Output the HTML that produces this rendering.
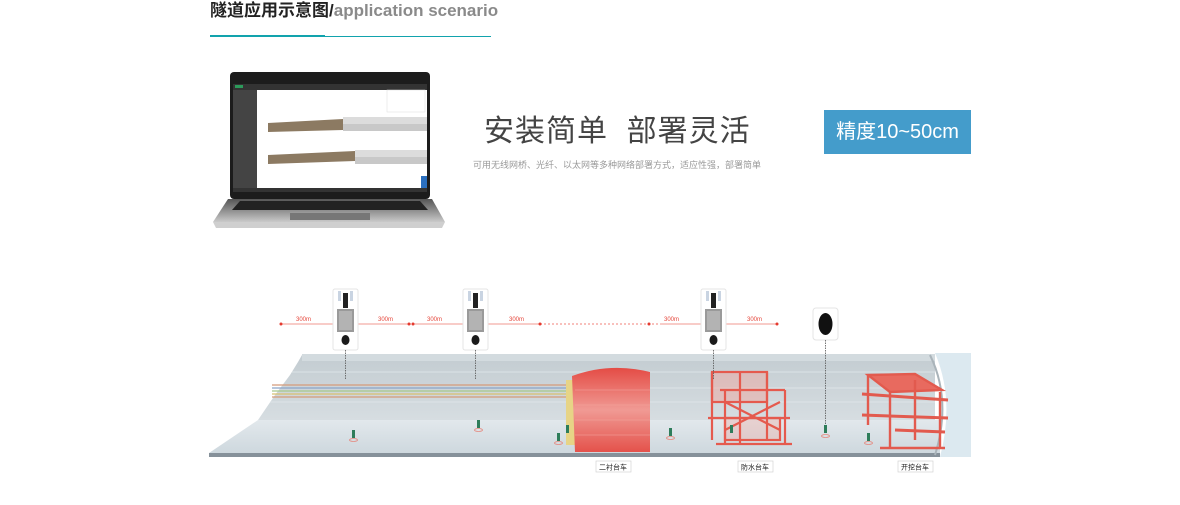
<!DOCTYPE html>
<html><head><meta charset="utf-8"><style>
body{margin:0;width:1180px;height:505px;background:#fff;overflow:hidden;font-family:"Liberation Sans","Noto Sans CJK SC",sans-serif;position:relative}
.t{position:absolute;left:210px;top:1px;font-size:17px;font-weight:bold;color:#222;white-space:nowrap;line-height:20px}
.t span{color:#8a8a8a}
</style></head><body>
<div class="t">隧道应用示意图/<span>application scenario</span></div>
<div style="position:absolute;left:210px;top:35px;width:115px;height:2px;background:#12a3ad"></div>
<div style="position:absolute;left:325px;top:35.5px;width:166px;height:1px;background:#12a3ad"></div>
<div style="position:absolute;left:484px;top:106px;font-size:30px;color:#444;letter-spacing:1px;white-space:nowrap">安装简单&nbsp;&nbsp;部署灵活</div>
<div style="position:absolute;left:473px;top:158px;font-size:9px;color:#999;white-space:nowrap">可用无线网桥、光纤、以太网等多种网络部署方式，适应性强，部署简单</div>
<div style="position:absolute;left:824px;top:110px;width:147px;height:44px;background:#449ccb;color:#fff;font-size:20px;line-height:44px;text-align:center;white-space:nowrap">精度10~50cm</div>
<svg width="1180" height="505" style="position:absolute;left:0;top:0">
<defs>
<linearGradient id="wall" x1="0" y1="0" x2="0" y2="1"><stop offset="0" stop-color="#c3ccd1"/><stop offset="1" stop-color="#d6dde1"/></linearGradient>
<linearGradient id="floor" x1="0" y1="0" x2="0" y2="1"><stop offset="0" stop-color="#e2e8ec"/><stop offset="1" stop-color="#ced8de"/></linearGradient>
<linearGradient id="red" x1="0" y1="0" x2="0" y2="1"><stop offset="0" stop-color="#e44c45"/><stop offset=".5" stop-color="#f09a94"/><stop offset="1" stop-color="#e4524b"/></linearGradient>
<linearGradient id="lap" x1="0" y1="0" x2="0" y2="1"><stop offset="0" stop-color="#555"/><stop offset="1" stop-color="#c9c9c9"/></linearGradient>
</defs>
<rect x="230" y="72" width="200" height="127" rx="4" fill="#1c1c1c"/>
<rect x="233" y="84" width="194" height="104" fill="#fff"/>
<rect x="233" y="84" width="194" height="6" fill="#333"/>
<rect x="233" y="90" width="24" height="98" fill="#444"/>
<rect x="233" y="188" width="194" height="4" fill="#333"/>
<rect x="235" y="85" width="8" height="3" fill="#2c9a5a"/>
<rect x="387" y="90" width="38" height="22" fill="none" stroke="#ddd" stroke-width=".5"/>
<polygon points="268,123 343,119 343,130 268,132" fill="#8c7a62"/>
<rect x="343" y="117" width="84" height="14" fill="#dcdcdc"/>
<rect x="343" y="124" width="84" height="7" fill="#c8c8c8"/>
<polygon points="268,155 355,151 355,161 268,164" fill="#8c7a62"/>
<rect x="355" y="150" width="72" height="14" fill="#dcdcdc"/>
<rect x="355" y="157" width="72" height="7" fill="#c8c8c8"/>
<rect x="421" y="176" width="6" height="12" fill="#2a6fbf"/>
<polygon points="228,199 432,199 445,222 213,222" fill="url(#lap)"/>
<polygon points="240,201 420,201 428,210 232,210" fill="#222"/>
<rect x="290" y="213" width="80" height="7" fill="#777"/>
<polygon points="213,222 445,222 442,228 216,228" fill="#cfcfcf"/>
<g stroke="#f29a90" stroke-width="1">
<line x1="281" y1="324" x2="411" y2="324"/><line x1="413" y1="324" x2="540" y2="324"/>
<line x1="540" y1="324" x2="660" y2="324" stroke-dasharray="2,2" stroke="#f08078"/>
<line x1="660" y1="324" x2="777" y2="324"/>
</g>
<g fill="#e53a2f"><circle cx="281" cy="324" r="1.5"/><circle cx="409" cy="324" r="1.5"/><circle cx="413" cy="324" r="1.5"/><circle cx="540" cy="324" r="1.5"/><circle cx="649" cy="324" r="1.5"/><circle cx="777" cy="324" r="1.5"/></g>
<g font-size="6" fill="#e5453a" font-family="Liberation Sans"><text x="296" y="321">300m</text><text x="378" y="321">300m</text><text x="427" y="321">300m</text><text x="509" y="321">300m</text><text x="664" y="321">300m</text><text x="747" y="321">300m</text></g>
<polygon points="302,355 935,355 935,420 258,420 275,395 290,375 298,362" fill="url(#wall)"/>
<rect x="302" y="354" width="633" height="7" fill="#d3dbdf"/>
<g stroke="#e2e8eb" stroke-width=".8"><line x1="292" y1="372" x2="935" y2="372"/><line x1="280" y1="388" x2="935" y2="388"/><line x1="270" y1="402" x2="935" y2="402"/></g>
<polygon points="258,420 940,420 940,453 209,453" fill="url(#floor)"/>
<rect x="209" y="453" width="731" height="4" fill="#86919a"/>
<path d="M935,353 Q955,400 940,457 L971,457 L971,353 Z" fill="#dce9f0"/>
<path d="M930,355 Q952,400 935,455" stroke="#aab4ba" stroke-width="2" fill="none"/>
<g stroke-width="1.3"><line x1="272" y1="385" x2="572" y2="385" stroke="#d49b7a"/><line x1="272" y1="388" x2="572" y2="388" stroke="#8aa4c8"/><line x1="272" y1="391" x2="572" y2="391" stroke="#a6c88a"/><line x1="272" y1="394" x2="572" y2="394" stroke="#d8c070"/><line x1="272" y1="397" x2="572" y2="397" stroke="#d49b7a"/></g>
<rect x="566" y="380" width="10" height="65" fill="#e7d486"/>
<path d="M572,376 Q610,362 650,372 L650,452 L575,452 Z" fill="url(#red)"/>
<g stroke="#f3a7a0" stroke-width=".6"><line x1="575" y1="390" x2="650" y2="390"/><line x1="575" y1="405" x2="650" y2="405"/><line x1="575" y1="420" x2="650" y2="420"/><line x1="575" y1="435" x2="650" y2="435"/></g>
<g stroke="#e55a4e" stroke-width="2.2" fill="none">
<rect x="712" y="372" width="55" height="30" fill="#f0a79f" fill-opacity=".5"/>
<rect x="725" y="418" width="55" height="22" fill="#f0a79f" fill-opacity=".35"/>
<line x1="712" y1="372" x2="712" y2="440"/><line x1="740" y1="372" x2="740" y2="445"/><line x1="767" y1="372" x2="767" y2="440"/><line x1="785" y1="390" x2="785" y2="444"/><line x1="725" y1="390" x2="725" y2="444"/>
<line x1="708" y1="418" x2="790" y2="418"/><line x1="716" y1="444" x2="792" y2="444"/>
<line x1="720" y1="390" x2="785" y2="390"/><line x1="725" y1="402" x2="780" y2="430"/><line x1="780" y1="402" x2="725" y2="430"/>
</g>
<g stroke="#e25a4e" stroke-width="2.4" fill="none">
<polygon points="868,375 915,374 942,390 890,392" fill="#e86a5f"/>
<line x1="868" y1="375" x2="868" y2="425"/><line x1="890" y1="392" x2="890" y2="448"/><line x1="915" y1="380" x2="915" y2="440"/><line x1="940" y1="392" x2="940" y2="448"/>
<line x1="862" y1="394" x2="948" y2="400" stroke-width="3"/><line x1="862" y1="415" x2="948" y2="418" stroke-width="3"/><line x1="880" y1="448" x2="945" y2="448"/>
<line x1="895" y1="430" x2="945" y2="432" stroke-width="3"/>
</g>
<g font-size="7" fill="#222" text-anchor="middle">
<rect x="596" y="461" width="35" height="11" fill="#fff" stroke="#ccc" stroke-width=".6"/><text x="613" y="469.5">二衬台车</text>
<rect x="738" y="461" width="35" height="11" fill="#fff" stroke="#ccc" stroke-width=".6"/><text x="755" y="469.5">防水台车</text>
<rect x="898" y="461" width="35" height="11" fill="#fff" stroke="#ccc" stroke-width=".6"/><text x="915" y="469.5">开挖台车</text>
</g>
<g id="dev">
<rect x="333" y="289" width="25" height="61" rx="2" fill="#fff" stroke="#e4e4e4"/>
<rect x="338" y="291" width="3" height="10" fill="#c9d4e2"/><rect x="350" y="291" width="3" height="10" fill="#c9d4e2"/>
<rect x="343" y="293" width="5" height="15" fill="#222"/>
<rect x="337" y="309" width="17" height="23" fill="#9a9a9a"/>
<rect x="339" y="311" width="13" height="19" fill="#b3b3b3"/>
<ellipse cx="345.5" cy="340" rx="4" ry="5" fill="#1a1a1a"/>
<line x1="345.5" y1="350" x2="345.5" y2="380" stroke="#555" stroke-width=".8" stroke-dasharray="1.5,1"/>
</g>
<use href="#dev" x="130"/>
<use href="#dev" x="368"/>
<rect x="813" y="308" width="25" height="32" rx="3" fill="#fff" stroke="#e4e4e4"/>
<ellipse cx="825.5" cy="324" rx="7" ry="11" fill="#111"/>
<line x1="825.5" y1="340" x2="825.5" y2="430" stroke="#555" stroke-width=".8" stroke-dasharray="1.5,1"/>
<g fill="#2e7d5a">
<rect x="352" y="430" width="3" height="8"/><rect x="477" y="420" width="3" height="8"/><rect x="557" y="433" width="3" height="8"/><rect x="566" y="425" width="3" height="8"/><rect x="669" y="428" width="3" height="8"/><rect x="824" y="425" width="3" height="8"/><rect x="867" y="433" width="3" height="8"/><rect x="730" y="425" width="3" height="8"/>
</g>
<g fill="none" stroke="#e58a80" stroke-width=".8"><ellipse cx="353.5" cy="440" rx="4" ry="1.5"/><ellipse cx="478.5" cy="430" rx="4" ry="1.5"/><ellipse cx="558.5" cy="443" rx="4" ry="1.5"/><ellipse cx="670.5" cy="438" rx="4" ry="1.5"/><ellipse cx="825.5" cy="436" rx="4" ry="1.5"/><ellipse cx="868.5" cy="443" rx="4" ry="1.5"/></g>
</svg>
</body></html>
